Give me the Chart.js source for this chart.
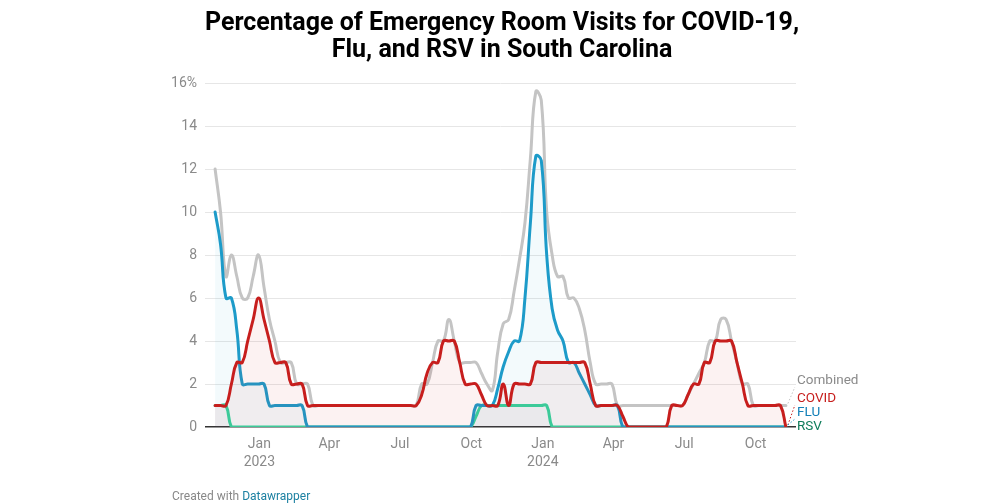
<!DOCTYPE html>
<html><head><meta charset="utf-8">
<script src="https://cdn.jsdelivr.net/npm/chart.js@4/dist/chart.umd.min.js"></script>
<style>html,body{margin:0;padding:0;background:#fff;}#wrap{position:relative;width:1000px;height:504px;}canvas{display:block}</style>
</head><body><div id="wrap"><canvas id="c" width="1000" height="504"></canvas></div>
<script>
const weeks = [
'2022-11-05','2022-11-12','2022-11-19','2022-11-26','2022-12-03','2022-12-10','2022-12-17','2022-12-24','2022-12-31',
'2023-01-07','2023-01-14','2023-01-21','2023-01-28','2023-02-04','2023-02-11','2023-02-18','2023-02-25',
'2023-03-04','2023-03-11','2023-03-18','2023-03-25','2023-04-01','2023-04-08','2023-04-15','2023-04-22','2023-04-29',
'2023-05-06','2023-05-13','2023-05-20','2023-05-27','2023-06-03','2023-06-10','2023-06-17','2023-06-24',
'2023-07-01','2023-07-08','2023-07-15','2023-07-22','2023-07-29','2023-08-05','2023-08-12','2023-08-19','2023-08-26',
'2023-09-02','2023-09-09','2023-09-16','2023-09-23','2023-09-30','2023-10-07','2023-10-14','2023-10-21','2023-10-28',
'2023-11-04','2023-11-11','2023-11-18','2023-11-25','2023-12-02','2023-12-09','2023-12-16','2023-12-23','2023-12-30',
'2024-01-06','2024-01-13','2024-01-20','2024-01-27','2024-02-03','2024-02-10','2024-02-17','2024-02-24',
'2024-03-02','2024-03-09','2024-03-16','2024-03-23','2024-03-30','2024-04-06','2024-04-13','2024-04-20','2024-04-27',
'2024-05-04','2024-05-11','2024-05-18','2024-05-25','2024-06-01','2024-06-08','2024-06-15','2024-06-22','2024-06-29',
'2024-07-06','2024-07-13','2024-07-20','2024-07-27','2024-08-03','2024-08-10','2024-08-17','2024-08-24','2024-08-31',
'2024-09-07','2024-09-14','2024-09-21','2024-09-28','2024-10-05','2024-10-12','2024-10-19','2024-10-26','2024-11-02','2024-11-09'];

const combined = [
12,10,7,8,7,6,6,7,8,6.5,
5,4,3,3,3,2,2,2,1,1,
1,1,1,1,1,1,1,1,1,1,
1,1,1,1,1,1,1,1,2,2,
3,4,4,5,4,3,3,3,3,2.5,
2,1.7,3.5,4.8,5,6.3,7.8,9.5,12.5,15.6,
15.2,10,8,7,7,6,6,5.5,4.5,3,
2,2,2,2,1,1,1,1,1,1,
1,1,1,1,1,1,1,1.5,2,2.5,
3,4,4,5,5,4,3,2,2,1,
1,1,1,1,1,1];

const covid = [
1,1,1,2,3,3,4,5,6,5,
4,3,3,3,2,2,2,1,1,1,
1,1,1,1,1,1,1,1,1,1,
1,1,1,1,1,1,1,1,1.5,2.5,
3,3,4,4,4,3,2,2,2,1.5,
1,1,1,2,1,2,2,2,2,3,
3,3,3,3,3,3,3,3,3,2,
1,1,1,1,1,0.5,0,0,0,0,
0,0,0,0,1,1,1,1.5,2,2,
3,3,4,4,4,4,3,2,1,1,
1,1,1,1,1,0];

const flu = [
10,8.5,6,6,4.5,2,2,2,2,2,
1,1,1,1,1,1,1,0,0,0,
0,0,0,0,0,0,0,0,0,0,
0,0,0,0,0,0,0,0,0,0,
0,0,0,0,0,0,0,0,1,1,
1,1,1.8,2.8,3.5,4,4,6,9.5,12.6,
12.4,8,5.5,4.5,4,3,3,2.5,2,1.5,
1,1,1,1,1,0,0,0,0,0,
0,0,0,0,0,0,0,0,0,0,
0,0,0,0,0,0,0,0,0,0,
0,0,0,0,0,0];

const rsv = [
1,1,1,0,0,0,0,0,0,0,
0,0,0,0,0,0,0,0,0,0,
0,0,0,0,0,0,0,0,0,0,
0,0,0,0,0,0,0,0,0,0,
0,0,0,0,0,0,0,0,0.5,1,
1,1,1,1,1,1,1,1,1,1,
1,1,0,0,0,0,0,0,0,0,
0,0,0,0,0,0,0,0,0,0,
0,0,0,0,0,0,0,0,0,0,
0,0,0,0,0,0,0,0,0,0,
0,0,0,0,0,0];

const yTickValues = [0,2,4,6,8,10,12,14,16];
const xTickDates = ['2023-01-01','2023-04-01','2023-07-01','2023-10-01','2024-01-01','2024-04-01','2024-07-01','2024-10-01'];
const xTickLabels = [['Jan','2023'],'Apr','Jul','Oct',['Jan','2024'],'Apr','Jul','Oct'];
const titleLines = ['Percentage of Emergency Room Visits for COVID-19,','Flu, and RSV in South Carolina'];
const seriesNames = ['COVID','FLU','RSV','Combined'];

const day = s => Date.UTC(+s.slice(0,4), +s.slice(5,7)-1, +s.slice(8,10)) / 86400000;
const xs = weeks.map(day);
const pts = arr => arr.map((v,i) => ({x: xs[i], y: v}));

const colors = {
  COVID: {line:'#c71e1d', fill:'rgba(199,30,29,0.06)', label:'#c71e1d'},
  FLU: {line:'#1d9bc9', fill:'rgba(29,155,201,0.05)', label:'#1480b8'},
  RSV: {line:'#36d9a0', fill:'rgba(40,100,120,0.03)', label:'#0e7c5a'},
  Combined: {line:'#c4c4c4', fill:false, label:'#8a8a8a'}
};
const seriesData = {COVID: covid, FLU: flu, RSV: rsv, Combined: combined};

const datasets = seriesNames.map(n => ({
  label: n,
  data: pts(seriesData[n]),
  borderColor: colors[n].line,
  backgroundColor: colors[n].fill || 'transparent',
  fill: colors[n].fill ? 'origin' : false,
  borderWidth: 3,
  pointRadius: 0,
  tension: 0.45,
  borderJoinStyle: 'round',
  borderCapStyle: 'round'
}));

const extras = {
  id: 'extras',
  afterDraw(chart) {
    const ctx = chart.ctx;
    ctx.save();
    ctx.fillStyle = '#000';
    ctx.font = 'bold 25px Roboto';
    ctx.textAlign = 'center';
    ctx.textBaseline = 'alphabetic';
    ctx.fillText(titleLines[0], 502, 30);
    ctx.fillText(titleLines[1], 502, 57);
    ctx.textAlign = 'left';
    ctx.font = '12px Roboto';
    ctx.fillStyle = '#888';
    ctx.fillText('Created with ', 172, 500);
    const w = ctx.measureText('Created with ').width;
    ctx.fillStyle = '#1d81a2';
    ctx.fillText('Datawrapper', 172 + w, 500);
    const xS = chart.scales.x, yS = chart.scales.y;
    const last = xs.length - 1;
    const ex = xS.getPixelForValue(xs[last]);
    const labelY = {Combined: 381, COVID: 399, FLU: 413, RSV: 427};
    ctx.font = '13.5px Roboto';
    ctx.textBaseline = 'middle';
    ['Combined','COVID','FLU','RSV'].forEach(n => {
      const ey = yS.getPixelForValue(seriesData[n][last]);
      const ly = labelY[n];
      if (n !== 'RSV') {
        ctx.strokeStyle = colors[n].line;
        ctx.lineWidth = 1;
        ctx.setLineDash([1.5, 2]);
        ctx.beginPath();
        ctx.moveTo(ex + 2, ey - 2);
        ctx.lineTo(ex + 9, ly + 6);
        ctx.stroke();
        ctx.setLineDash([]);
      }
      ctx.fillStyle = colors[n].label;
      ctx.fillText(n, 797, ly);
    });
    ctx.restore();
  }
};

new Chart(document.getElementById('c'), {
  type: 'line',
  data: {datasets},
  options: {
    responsive: false,
    animation: false,
    layout: {padding: {left: 0, right: 204, top: 83, bottom: 0}},
    plugins: {legend: {display: false}, tooltip: {enabled: false}, title: {display: false}},
    scales: {
      x: {
        type: 'linear',
        min: xs[0] - 13,
        max: xs[xs.length-1] + 13,
        afterFit: s => { s.height = 77; },
        afterBuildTicks: s => { s.ticks = xTickDates.map(d => ({value: day(d)})); },
        grid: {display: false},
        border: {display: false},
        ticks: {
          autoSkip: false, maxRotation: 0, padding: 0,
          color: '#8a8a8a', font: {family: 'Roboto', size: 14, lineHeight: 1.3},
          callback: (v, i) => xTickLabels[i]
        }
      },
      y: {
        min: 0, max: 16,
        afterFit: s => { s.width = 205; },
        afterBuildTicks: s => { s.ticks = yTickValues.map(v => ({value: v})); },
        border: {display: false},
        grid: {
          drawTicks: false,
          color: c => c.tick && c.tick.value === 0 ? '#333333' : '#e6e6e6',
          lineWidth: c => c.tick && c.tick.value === 0 ? 1.5 : 1
        },
        ticks: {
          padding: 8, color: '#8a8a8a', font: {family: 'Roboto', size: 14},
          callback: v => v === 16 ? '16%' : String(v)
        }
      }
    }
  },
  plugins: [extras]
});
</script></body></html>
